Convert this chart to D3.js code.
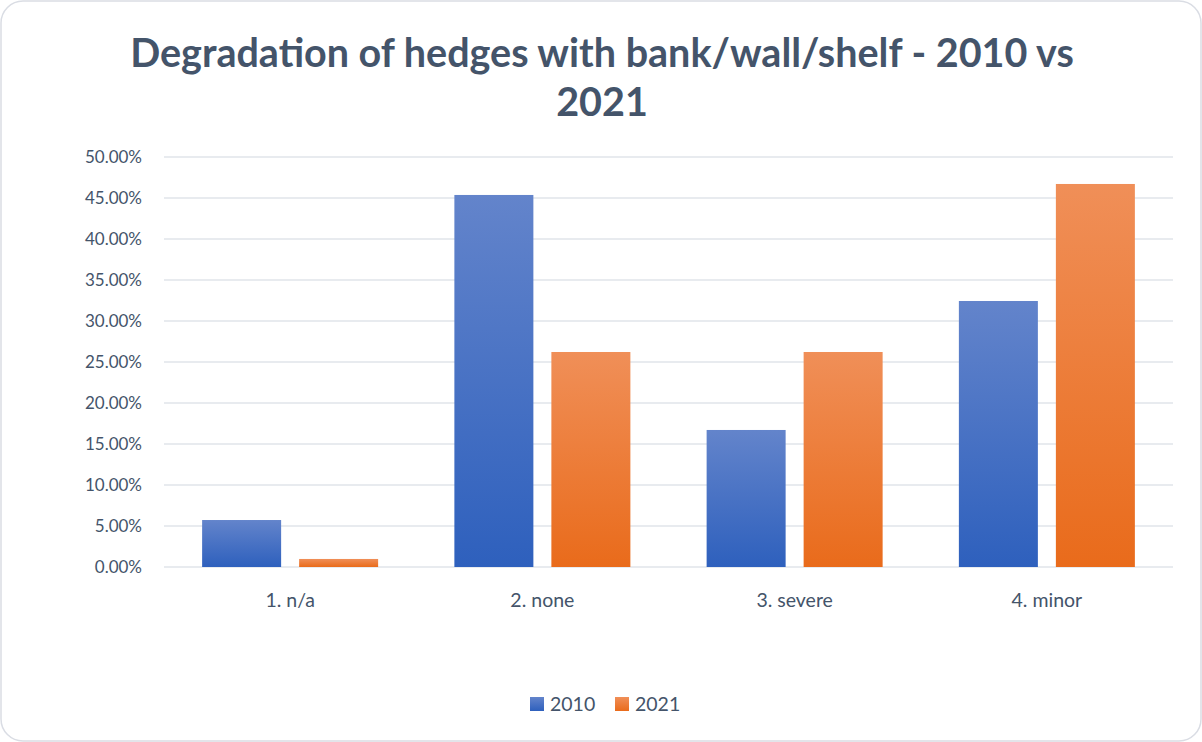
<!DOCTYPE html>
<html>
<head>
<meta charset="utf-8">
<script src="https://cdn.jsdelivr.net/npm/d3@7/dist/d3.min.js"></script>
<style>
  html, body { margin: 0; padding: 0; background: #ffffff; }
  svg { display: block; }
</style>
</head>
<body>
<svg id="chart" width="1202" height="742"></svg>
<script>
// Share of hedges by degradation class, survey years 2010 and 2021
const categories = ["1. n/a", "2. none", "3. severe", "4. minor"];
const series = ["2010", "2021"];
const values2010 = [0.0573, 0.4537, 0.1671, 0.3244];
const values2021 = [0.0098, 0.2622, 0.2622, 0.4671];
const yTicks = [0, 0.05, 0.10, 0.15, 0.20, 0.25, 0.30, 0.35, 0.40, 0.45, 0.50];
const titleLines = ["Degradation of hedges with bank/wall/shelf - 2010 vs", "2021"];

const W = 1202, H = 742;
const margin = { left: 164, right: 29, top: 157, bottom: 175 };
const textColor = "#44546a";
const font = "Lato, 'Open Sans', sans-serif";
const clusterWidth = 176;

const svg = d3.select("#chart");
const defs = svg.append("defs");

const gradients = [
  { id: "g2010", top: "#6384cb", bottom: "#2e60bd" },
  { id: "g2021", top: "#f08f58", bottom: "#e96b1b" }
];
gradients.forEach(g => {
  const lg = defs.append("linearGradient")
    .attr("id", g.id).attr("x1", 0).attr("y1", 0).attr("x2", 0).attr("y2", 1);
  lg.append("stop").attr("offset", "0%").attr("stop-color", g.top);
  lg.append("stop").attr("offset", "100%").attr("stop-color", g.bottom);
});

// chart area frame
svg.append("rect")
  .attr("x", 1).attr("y", 1).attr("width", W - 2).attr("height", H - 2)
  .attr("rx", 22).attr("ry", 22)
  .attr("fill", "#ffffff").attr("stroke", "#dadde4").attr("stroke-width", 1.5);

// title
svg.append("g").selectAll("text").data(titleLines).join("text")
  .attr("x", W / 2 + 1)
  .attr("y", (d, i) => 67 + i * 49)
  .attr("text-anchor", "middle")
  .attr("font-family", font)
  .attr("font-weight", "bold")
  .attr("font-size", 39.5)
  .attr("fill", textColor)
  .text(d => d);

const x0 = d3.scaleBand()
  .domain(categories)
  .range([margin.left, W - margin.right]);

const x1 = d3.scaleBand()
  .domain(series)
  .range([0, clusterWidth])
  .paddingInner(0.1856);

const y = d3.scaleLinear()
  .domain([0, 0.5])
  .range([H - margin.bottom, margin.top]);

// gridlines
svg.append("g").selectAll("line").data(yTicks).join("line")
  .attr("x1", margin.left).attr("x2", W - margin.right)
  .attr("y1", d => y(d)).attr("y2", d => y(d))
  .attr("stroke", "#e1e4ea").attr("stroke-width", 1.6);

// y axis labels
const yAxis = d3.axisLeft(y)
  .tickValues(yTicks)
  .tickSize(0)
  .tickPadding(0)
  .tickFormat(d3.format(".2%"));
const yg = svg.append("g").attr("transform", `translate(${margin.left - 22},0)`).call(yAxis);
yg.select(".domain").remove();
yg.selectAll("text")
  .attr("font-family", font)
  .attr("font-size", 17)
  .attr("fill", textColor)
  .attr("dy", "0.35em");

// bars
const rows = categories.map((c, i) => ({ cat: c, vals: [values2010[i], values2021[i]] }));
const groups = svg.append("g").selectAll("g").data(rows).join("g")
  .attr("transform", d => `translate(${x0(d.cat) + (x0.bandwidth() - clusterWidth) / 2},0)`);
groups.selectAll("rect")
  .data(d => d.vals.map((v, j) => ({ s: series[j], v })))
  .join("rect")
  .attr("x", d => x1(d.s))
  .attr("width", x1.bandwidth())
  .attr("y", d => y(d.v))
  .attr("height", d => y(0) - y(d.v))
  .attr("fill", d => d.s === "2010" ? "url(#g2010)" : "url(#g2021)");

// category axis labels
const xAxis = d3.axisBottom(x0).tickSize(0).tickPadding(0);
const xg = svg.append("g").attr("transform", `translate(0,${y(0) + 33})`).call(xAxis);
xg.select(".domain").remove();
xg.selectAll("text")
  .attr("font-family", font)
  .attr("font-size", 19.5)
  .attr("fill", textColor)
  .attr("dy", "0.35em");

// legend
const legendItems = [
  { label: "2010", fill: "url(#g2010)", x: 530 },
  { label: "2021", fill: "url(#g2021)", x: 615 }
];
const lg = svg.append("g").selectAll("g").data(legendItems).join("g")
  .attr("transform", d => `translate(${d.x},697)`);
lg.append("rect").attr("width", 14).attr("height", 14).attr("fill", d => d.fill);
lg.append("text")
  .attr("x", 20).attr("y", 7).attr("dy", "0.35em")
  .attr("font-family", font).attr("font-size", 19.5).attr("fill", textColor)
  .text(d => d.label);
</script>
</body>
</html>
